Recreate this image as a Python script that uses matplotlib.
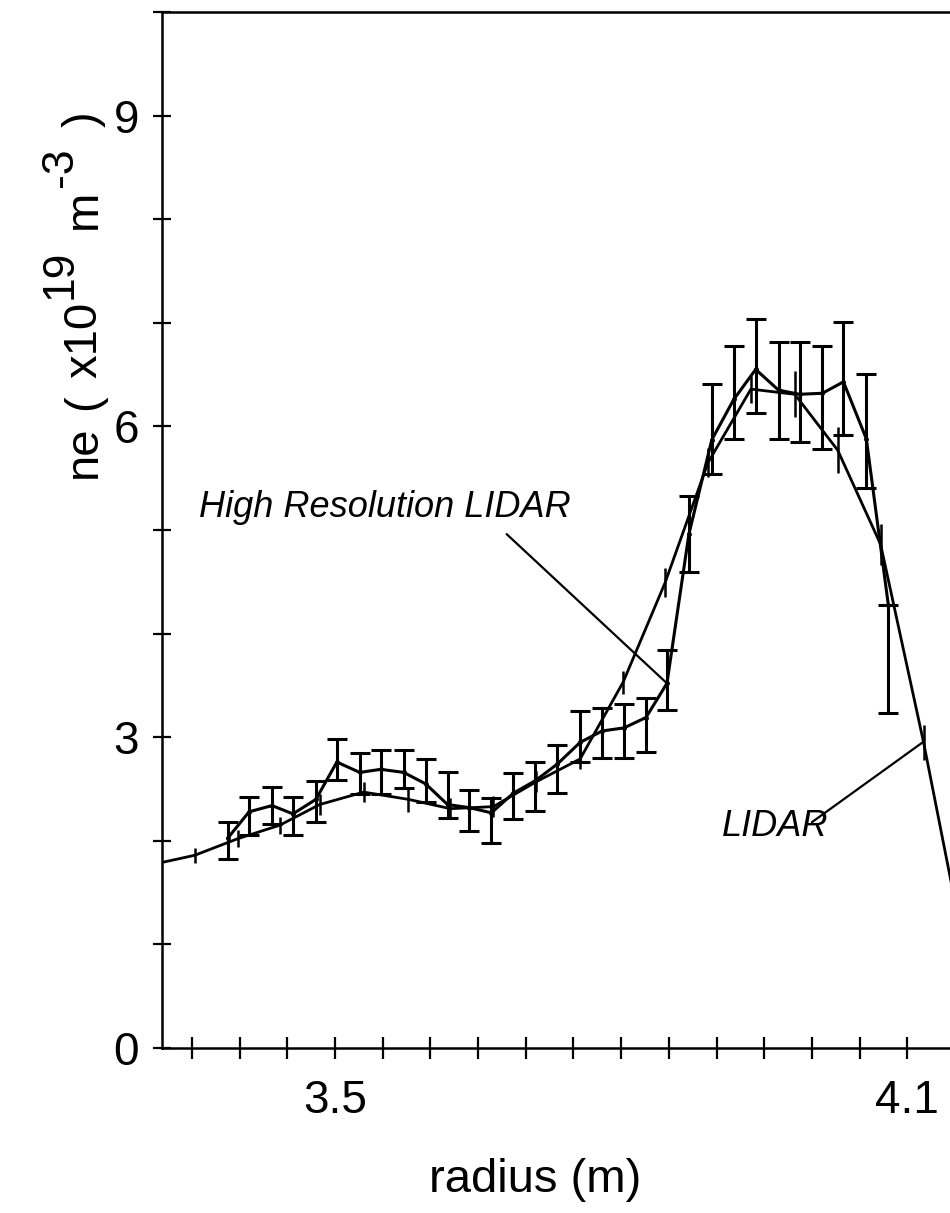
import matplotlib
matplotlib.use("Agg")
import matplotlib.pyplot as plt
import numpy as np

plt.rcParams["font.family"] = ["Liberation Sans", "DejaVu Sans"]

# High resolution LIDAR (capped error bars)
hr_r = [3.388, 3.410, 3.434, 3.456, 3.480, 3.502, 3.526, 3.548, 3.572, 3.595,
        3.618, 3.641, 3.664, 3.687, 3.710, 3.733, 3.757, 3.780, 3.803, 3.826,
        3.848, 3.871, 3.895, 3.918, 3.941, 3.965, 3.987, 4.011, 4.033, 4.057,
        4.080]
hr_ne = [2.03, 2.28, 2.34, 2.26, 2.40, 2.76, 2.66, 2.69, 2.66, 2.55,
         2.35, 2.32, 2.27, 2.46, 2.58, 2.74, 2.95, 3.06, 3.09, 3.19,
         3.52, 4.96, 5.87, 6.26, 6.55, 6.35, 6.31, 6.32, 6.43, 5.88,
         4.28]
hr_lo = [1.82, 2.06, 2.16, 2.06, 2.18, 2.59, 2.45, 2.45, 2.51, 2.37,
         2.22, 2.09, 1.98, 2.21, 2.29, 2.46, 2.76, 2.80, 2.80, 2.86,
         3.26, 4.59, 5.54, 5.88, 6.13, 5.88, 5.85, 5.78, 5.92, 5.41,
         3.23]
hr_hi = [2.18, 2.42, 2.52, 2.42, 2.58, 2.98, 2.85, 2.88, 2.88, 2.79,
         2.66, 2.49, 2.41, 2.65, 2.76, 2.92, 3.25, 3.28, 3.32, 3.38,
         3.84, 5.33, 6.41, 6.78, 7.04, 6.81, 6.81, 6.78, 7.01, 6.51,
         4.28]

# LIDAR (small uncapped error bars)
li_r = [3.308, 3.353, 3.398, 3.442, 3.484, 3.530, 3.577, 3.621, 3.666, 3.711,
        3.757, 3.802, 3.846, 3.891, 3.936, 3.982, 4.027, 4.072, 4.117, 4.162]
li_ne = [1.77, 1.86, 2.02, 2.15, 2.35, 2.47, 2.40, 2.31, 2.33, 2.57,
         2.79, 3.53, 4.49, 5.65, 6.36, 6.31, 5.77, 4.86, 2.95, 0.85]
li_err = [0.07, 0.07, 0.08, 0.08, 0.10, 0.10, 0.12, 0.10, 0.10, 0.10,
          0.10, 0.11, 0.14, 0.14, 0.13, 0.22, 0.22, 0.20, 0.17, 0.20]

x_ticks = np.arange(3.35, 4.14, 0.05)
x_labels = {3.5: "3.5", 4.1: "4.1"}
y_ticks = np.arange(0, 11, 1)
y_labels = {0: "0", 3: "3", 6: "6", 9: "9"}

# y label pieces: (text, font size, shift left of baseline px, gap before px)
ylabel_parts = [("ne", 34, 0, 0), ("(", 34, 0, 16), ("x10", 34, 0, 16),
                ("19", 32, 24, 3), ("m", 34, 0, 20), ("-3", 32, 24, 3),
                (")", 34, 0, 20)]

W, H = 950, 1213
fig = plt.figure(figsize=(W / 100, H / 100), dpi=100)
ax = fig.add_axes([162 / W, 1 - 1048 / H, 1 - 162 / W, (1048 - 12) / H])

hr_ne_a = np.array(hr_ne)
yerr = [hr_ne_a - np.array(hr_lo), np.array(hr_hi) - hr_ne_a]
ax.errorbar(hr_r, hr_ne, yerr=yerr, color="black", lw=2.2, elinewidth=2.2,
            capsize=7, capthick=2.2, marker="o", ms=2.5, zorder=3)
ax.errorbar(li_r, li_ne, yerr=li_err, color="black", lw=2.0, elinewidth=1.8,
            capsize=0, zorder=2)

# annotations
ax.text(3.358, 5.22, "High Resolution LIDAR", style="italic", fontsize=26,
        va="center", ha="left")
ax.annotate("", xy=(3.848, 3.52), xytext=(3.680, 4.96),
            arrowprops=dict(arrowstyle="-", lw=1.6, color="black",
                            shrinkA=0, shrinkB=0))
ax.text(3.906, 2.135, "LIDAR", style="italic", fontsize=26,
        va="center", ha="left")
ax.annotate("", xy=(4.116, 2.95), xytext=(4.000, 2.18),
            arrowprops=dict(arrowstyle="-", lw=1.6, color="black",
                            shrinkA=0, shrinkB=0))

ax.set_xlim(3.3187, 4.1447)
ax.set_ylim(0, 10)
ax.set_xticks(x_ticks)
ax.set_xticklabels([x_labels.get(round(t, 2), "") for t in x_ticks])
ax.set_yticks(y_ticks)
ax.set_yticklabels([y_labels.get(int(t), "") for t in y_ticks])
ax.tick_params(axis="x", direction="inout", length=16, width=1.6,
               labelsize=33, pad=14)
ax.tick_params(axis="y", direction="inout", length=13, width=1.6,
               labelsize=33, pad=10)

for side in ["left", "bottom", "top"]:
    ax.spines[side].set_linewidth(1.8)
ax.spines["right"].set_visible(False)

fig.text(535 / W, 1 - 1180 / H, "radius (m)", fontsize=34,
         ha="center", va="center")

# rotated y label built piece by piece so superscripts stay large
renderer = fig.canvas.get_renderer()
base_x = 96
y_pos = H - 478
for txt, size, shift, gap in ylabel_parts:
    t = fig.text((base_x - shift) / W, (y_pos + gap) / H, txt, fontsize=size,
                 rotation=90, rotation_mode="anchor", ha="left", va="baseline")
    bb = t.get_window_extent(renderer)
    y_pos = bb.y1

fig.savefig("out.png", dpi=100)
